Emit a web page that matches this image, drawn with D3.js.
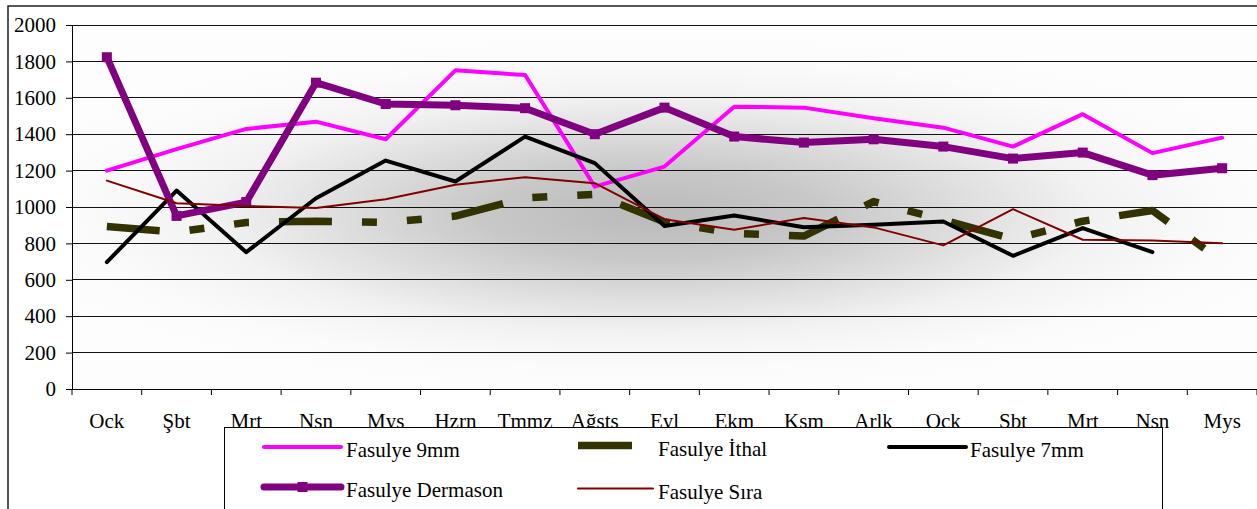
<!DOCTYPE html>
<html><head><meta charset="utf-8">
<script src="https://cdn.jsdelivr.net/npm/d3@7"></script>
<style>
html,body{margin:0;padding:0;background:#fff;overflow:hidden;}
svg{display:block;}
svg text{font-family:"Liberation Serif","Times New Roman",Tinos,"DejaVu Serif",serif !important;}
</style></head>
<body>
<svg id="chart" width="1257" height="509"></svg>
<script>
const months = ["Ock","Şbt","Mrt","Nsn","Mys","Hzrn","Tmmz","Ağsts","Eyl","Ekm","Ksm","Arlk","Ock","Sbt","Mrt","Nsn","Mys"];
const yTicks = [0,200,400,600,800,1000,1200,1400,1600,1800,2000];
const fasulye9mm = [1200,1318,1429,1469,1372,1751,1725,1112,1222,1551,1546,1488,1436,1332,1510,1296,1381];
const fasulyeIthal = [893,862,915,922,915,950,1050,1070,918,855,840,1030,929,823,922,981,700];
const fasulye7mm = [697,1090,752,1048,1255,1140,1387,1241,896,953,889,902,920,732,884,752,null];
const fasulyeDermason = [1823,951,1027,1683,1566,1559,1543,1400,1546,1387,1354,1372,1332,1266,1299,1175,1213];
const fasulyeSira = [1145,1021,1006,994,1043,1122,1164,1131,933,875,939,888,789,988,820,816,801];
const seriesNames = ["Fasulye 9mm","Fasulye İthal","Fasulye 7mm","Fasulye Dermason","Fasulye Sıra"];

const FONT = '"Liberation Serif","Times New Roman",Tinos,"DejaVu Serif",serif';
const svg = d3.select("#chart");
const L = 72, R = 1257, T = 25, B = 389;
const x = d3.scaleBand().domain(d3.range(months.length)).range([L, R]);
const y = d3.scaleLinear().domain([0, 2000]).range([B, T]);

// outer border
svg.append("rect").attr("x",8).attr("y",6).attr("width",1260).attr("height",520)
  .attr("fill","#fff").attr("stroke","#222").attr("stroke-width",1.5);

// gradient background (wide ellipse)
const gcx = L + (R-L)*0.49, gcy = T + (B-T)*0.52, gry = (B-T)/2, grx = 680;
const defs = svg.append("defs");
const g = defs.append("radialGradient").attr("id","bg").attr("gradientUnits","userSpaceOnUse")
  .attr("cx",gcx).attr("cy",gcy).attr("r",gry).attr("fx",gcx).attr("fy",gcy)
  .attr("gradientTransform",`translate(${gcx},${gcy}) scale(${grx/gry},1) translate(${-gcx},${-gcy})`);
[[0,"#bababa"],[0.25,"#c8c8c8"],[0.44,"#dcdcdc"],[0.65,"#f2f2f2"],[0.85,"#fbfbfb"],[1,"#fdfdfd"]].forEach(s=>
  g.append("stop").attr("offset",s[0]).attr("stop-color",s[1]));
svg.append("rect").attr("x",L).attr("y",T).attr("width",R-L).attr("height",B-T).attr("fill","url(#bg)");

// gridlines
svg.append("g").selectAll("line").data(yTicks.filter(d=>d>0)).join("line")
  .attr("x1",L).attr("x2",R).attr("y1",d=>y(d)).attr("y2",d=>y(d))
  .attr("stroke","#111").attr("stroke-width",1).attr("shape-rendering","crispEdges");

// y axis
const yAxis = svg.append("g").attr("transform",`translate(${L},0)`)
  .call(d3.axisLeft(y).tickValues(yTicks).tickSize(6).tickPadding(10).tickFormat(d3.format("d")));
yAxis.attr("font-family",FONT);
yAxis.select(".domain").attr("stroke","#000").attr("stroke-width",1);
yAxis.selectAll(".tick line").attr("stroke","#000");
yAxis.selectAll("text").attr("font-size",21).style("font-family",FONT).attr("fill","#000");

// x axis
const xAxis = svg.append("g").attr("transform",`translate(0,${B})`)
  .call(d3.axisBottom(x).tickSize(0).tickFormat(i=>months[i]));
xAxis.attr("font-family",FONT);
xAxis.select(".domain").attr("stroke","#000").attr("stroke-width",1);
xAxis.selectAll("text").attr("font-size",21).style("font-family",FONT)
  .attr("fill","#000").attr("dy",0).attr("y",39);
const bounds = d3.range(months.length+1).map(i=> i<months.length ? x(i) : R);
svg.append("g").selectAll("line").data(bounds).join("line")
  .attr("x1",d=>d).attr("x2",d=>d).attr("y1",B).attr("y2",B+6).attr("stroke","#000");

const cx = i => x(i) + x.bandwidth()/2;
const line = d3.line().defined(d=>d!=null).x((d,i)=>cx(i)).y(d=>y(d));

const styles = [
  {data:fasulye9mm, color:"#ff00ff", w:4},
  {data:fasulyeIthal, color:"#333300", w:7.5, dash:"53,30,15,30,15,30", cap:"butt"},
  {data:fasulye7mm, color:"#000000", w:4},
  {data:fasulyeDermason, color:"#800080", w:7, marker:true},
  {data:fasulyeSira, color:"#800000", w:2}
];
const plot = svg.append("g");
styles.forEach(s=>{
  plot.append("path").datum(s.data).attr("d",line).attr("fill","none")
    .attr("stroke",s.color).attr("stroke-width",s.w)
    .attr("stroke-linejoin","round").attr("stroke-linecap",s.cap||"round")
    .attr("stroke-dasharray",s.dash||null);
  if(s.marker){
    plot.append("g").selectAll("rect").data(s.data).join("rect")
      .attr("x",(d,i)=>cx(i)-5).attr("y",d=>y(d)-5).attr("width",10).attr("height",10)
      .attr("fill",s.color);
  }
});

// legend
const lg = svg.append("g");
lg.append("rect").attr("x",224.5).attr("y",427.5).attr("width",938).attr("height",100)
  .attr("fill","#fff").attr("stroke","#000").attr("stroke-width",1);
const legItems = [
  {name:seriesNames[0], s:styles[0], x1:264, x2:341, ly:447, tx:346},
  {name:seriesNames[1], s:styles[1], x1:578, x2:632, ly:445.5, tx:658, rect:true},
  {name:seriesNames[2], s:styles[2], x1:889, x2:966, ly:447, tx:970},
  {name:seriesNames[3], s:styles[3], x1:264, x2:341, ly:487, tx:346},
  {name:seriesNames[4], s:styles[4], x1:578, x2:653, ly:488.5, tx:658}
];
legItems.forEach(it=>{
  if(it.rect){
    lg.append("rect").attr("x",it.x1).attr("y",it.ly-3.75).attr("width",it.x2-it.x1).attr("height",7.5).attr("fill",it.s.color);
  } else {
    lg.append("line").attr("x1",it.x1).attr("x2",it.x2).attr("y1",it.ly).attr("y2",it.ly)
      .attr("stroke",it.s.color).attr("stroke-width",it.s.w).attr("stroke-linecap","round");
  }
  if(it.s.marker){
    lg.append("rect").attr("x",(it.x1+it.x2)/2-5).attr("y",it.ly-5).attr("width",10).attr("height",10).attr("fill",it.s.color);
  }
  lg.append("text").attr("x",it.tx).attr("y",it.ly+10).attr("font-size",21).style("font-family",FONT).attr("fill","#000").text(it.name);
});
</script>
</body></html>
